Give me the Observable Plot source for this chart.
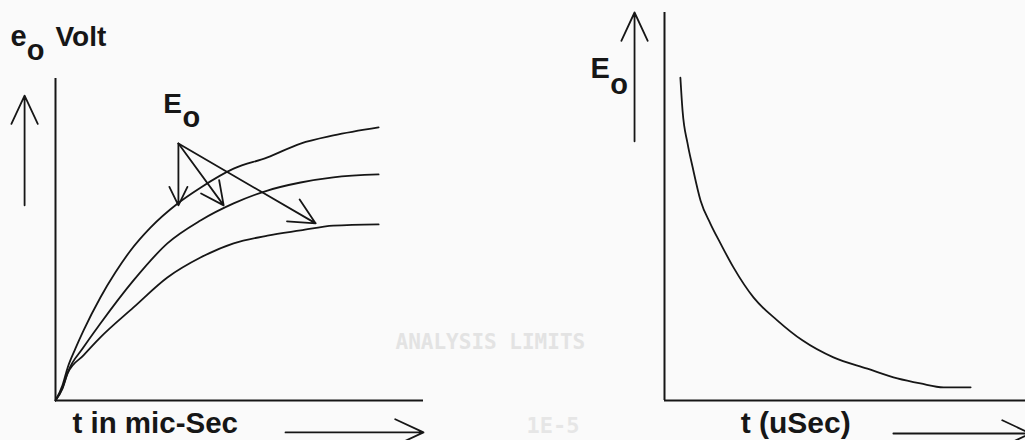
<!DOCTYPE html>
<html>
<head>
<meta charset="utf-8">
<script src="https://cdn.jsdelivr.net/npm/d3@7"></script>
<script src="https://cdn.jsdelivr.net/npm/@observablehq/plot@0.6"></script>
<style>
  html, body { margin: 0; padding: 0; background: #fafafa; overflow: hidden; }
  #wrap { display: flex; width: 1025px; height: 440px; }
  svg { display: block; }
</style>
</head>
<body>
<div id="wrap"></div>
<script>
// ---- Left panel: charging curves (t in mic-Sec, e_o Volt) ----
const tTop = [0, 0.19, 0.33, 0.54, 0.76, 1.22, 1.63, 2.04, 2.58, 3.32, 3.94, 4.84, 5.76, 6.66, 7.55, 8.78];
const eTop = [0, 0.47, 1.02, 1.61, 2.17, 3.20, 3.98, 4.66, 5.37, 6.12, 6.61, 7.20, 7.55, 7.98, 8.23, 8.48];
const tMid = [0, 0.19, 0.33, 0.76, 1.22, 2.12, 3.04, 3.94, 4.84, 5.76, 6.66, 7.55, 8.78];
const eMid = [0, 0.40, 0.87, 1.65, 2.39, 3.73, 4.88, 5.59, 6.12, 6.52, 6.77, 6.93, 7.02];
const tLow = [0, 0.19, 0.33, 0.76, 1.22, 2.12, 3.04, 3.94, 4.84, 5.76, 6.66, 7.55, 8.78];
const eLow = [0, 0.37, 0.84, 1.40, 1.96, 2.89, 3.82, 4.44, 4.88, 5.12, 5.28, 5.43, 5.47];

// E_o pointer arrows (start -> end on each curve)
const pointerStart = {t: 3.34, e: 7.98};
const pointerEnds = [{t: 3.34, e: 6.06}, {t: 4.57, e: 6.06}, {t: 7.07, e: 5.50}];

// axis-direction arrows of the left panel
const leftArrows = [
  {x1: -0.84, y1: 6.06, x2: -0.84, y2: 9.47},
  {x1: 6.25, y1: -0.99, x2: 10.0, y2: -0.99}
];

// ---- Right panel: decay curve (t in uSec, E_o) ----
const tDecay = [0.44, 0.50, 0.64, 0.78, 1.00, 1.27, 1.55, 1.91, 2.47, 3.13, 3.82, 4.68, 5.62, 6.45, 7.09, 7.73, 8.48];
const eDecay = [8.32, 7.47, 6.62, 6.01, 5.15, 4.56, 4.05, 3.43, 2.65, 2.06, 1.55, 1.11, 0.82, 0.57, 0.44, 0.34, 0.34];

const rightArrows = [
  {x1: -0.83, y1: 6.68, x2: -0.83, y2: 10.0},
  {x1: 6.34, y1: -0.85, x2: 10.14, y2: -0.85}
];

// labels
const leftYLabel = "Volt";
const leftXLabel = "t in mic-Sec";
const rightXLabel = "t (uSec)";
const faintLabels = ["ANALYSIS LIMITS", "1E-5"];

const INK = "#161616";
const FONT = "Liberation Sans, Arial, Helvetica, sans-serif";
const zip = (ts, es, name) => ts.map((t, i) => ({t, e: es[i], name}));

const curves = [
  ...zip(tTop, eTop, "top"),
  ...zip(tMid, eMid, "mid"),
  ...zip(tLow, eLow, "low")
];
const pointers = pointerEnds.map(d => ({x1: pointerStart.t, y1: pointerStart.e, x2: d.t, y2: d.e}));

const txt = (data, opts) => Plot.text(data, {fill: INK, fontFamily: FONT, fontWeight: "bold", lineAnchor: "bottom", textAnchor: "start", ...opts});

const left = Plot.plot({
  width: 560, height: 440,
  marginLeft: 55, marginRight: 137, marginTop: 78, marginBottom: 40,
  x: {domain: [0, 10], axis: null},
  y: {domain: [0, 10], axis: null},
  style: {background: "transparent", overflow: "visible"},
  marks: [
    Plot.text([faintLabels[0]], {x: 9.24, y: 1.61, text: d => d, fill: "#e3e3e3", fontFamily: "DejaVu Sans Mono, monospace", fontWeight: "bold", fontSize: 21, textAnchor: "start", lineAnchor: "bottom"}),
    Plot.text([faintLabels[1]], {x: 12.8, y: -1.0, text: d => d, fill: "#e6e6e6", fontFamily: "DejaVu Sans Mono, monospace", fontWeight: "bold", fontSize: 22, textAnchor: "start", lineAnchor: "bottom"}),
    Plot.ruleX([0], {stroke: INK, strokeWidth: 2}),
    Plot.ruleY([0], {stroke: INK, strokeWidth: 2}),
    Plot.line(curves, {x: "t", y: "e", z: "name", stroke: INK, strokeWidth: 1.8, curve: "monotone-x"}),
    Plot.arrow(pointers, {x1: "x1", y1: "y1", x2: "x2", y2: "y2", stroke: INK, strokeWidth: 1.8, headLength: 24, headAngle: 52}),
    Plot.arrow(leftArrows, {x1: "x1", y1: "y1", x2: "x2", y2: "y2", stroke: INK, strokeWidth: 1.8, headLength: 26, headAngle: 50}),
    txt(["e"], {x: -1.22, y: 11.02, text: d => d, fontSize: 29}),
    txt(["o"], {x: -0.78, y: 10.56, text: d => d, fontSize: 29}),
    txt([leftYLabel], {x: 0, y: 11.02, text: d => d, fontSize: 28}),
    txt(["E"], {x: 2.93, y: 8.94, text: d => d, fontSize: 28}),
    txt(["o"], {x: 3.45, y: 8.50, text: d => d, fontSize: 29}),
    txt([leftXLabel], {x: 0.46, y: -1.02, text: d => d, fontSize: 29.5})
  ]
});

const decay = zip(tDecay, eDecay, "decay");

const right = Plot.plot({
  width: 465, height: 440,
  marginLeft: 104, marginRight: 0, marginTop: 12, marginBottom: 40,
  x: {domain: [0, 10], axis: null},
  y: {domain: [0, 10], axis: null},
  style: {background: "transparent", overflow: "visible"},
  marks: [
    Plot.ruleX([0], {stroke: INK, strokeWidth: 2}),
    Plot.ruleY([0], {stroke: INK, strokeWidth: 2}),
    Plot.line(decay, {x: "t", y: "e", stroke: INK, strokeWidth: 1.8, curve: "monotone-x"}),
    Plot.arrow(rightArrows, {x1: "x1", y1: "y1", x2: "x2", y2: "y2", stroke: INK, strokeWidth: 1.8, headLength: 26, headAngle: 50}),
    txt(["E"], {x: -2.05, y: 8.30, text: d => d, fontSize: 29}),
    txt(["o"], {x: -1.50, y: 7.89, text: d => d, fontSize: 29}),
    txt([rightXLabel], {x: 2.11, y: -0.85, text: d => d, fontSize: 30})
  ]
});

const wrap = document.getElementById("wrap");
wrap.appendChild(left);
wrap.appendChild(right);
</script>
</body>
</html>
